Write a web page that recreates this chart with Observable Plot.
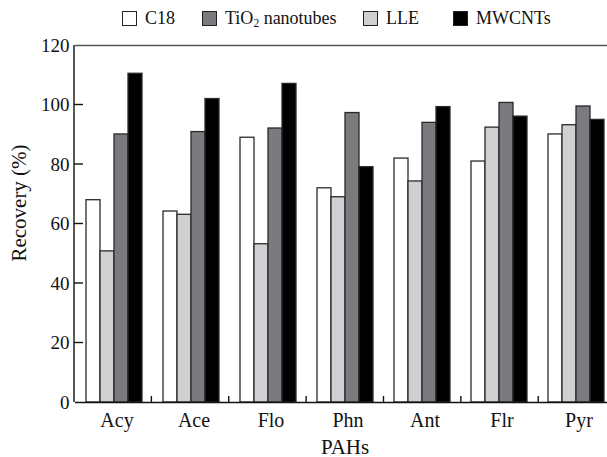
<!DOCTYPE html>
<html><head><meta charset="utf-8">
<script src="https://cdn.jsdelivr.net/npm/d3@7"></script>
<script src="https://cdn.jsdelivr.net/npm/@observablehq/plot@0.6"></script>
<style>
body{margin:0;background:#fff;overflow:hidden;font-family:"Liberation Serif",serif;}
#legend{position:relative;height:35px;width:607px;font-size:18px;color:#111;}
.item{position:absolute;top:10px;display:flex;align-items:center;white-space:nowrap;line-height:17px;}
.sw{width:13px;height:13px;border:1.3px solid #222;margin-right:8px;}
sub{font-size:11.5px;vertical-align:-3px;line-height:0;}
#chart svg text{font-family:"Liberation Serif",serif !important;fill:#111;}
</style></head>
<body><div id="legend"></div><div id="chart"></div>
<script>
const pahs = ["Acy","Ace","Flo","Phn","Ant","Flr","Pyr"];
const methods = ["C18","LLE","TiO2 nanotubes","MWCNTs"];
const c18 = [68, 64.2, 89, 72, 82, 81, 90.1];
const lle = [50.8, 63.1, 53.2, 69, 74.3, 92.4, 93.2];
const tio2 = [90.1, 90.9, 92.1, 97.3, 94, 100.7, 99.5];
const mwcnts = [110.5, 102, 107.1, 79.1, 99.3, 96.1, 95];
const colors = ["#ffffff", "#d0d0d2", "#7b7a7f", "#000000"];
const legendOrder = ["C18", "TiO2 nanotubes", "LLE", "MWCNTs"];
const legendLabels = ["C18", "TiO<sub>2</sub> nanotubes", "LLE", "MWCNTs"];
const yTicks = [0, 20, 40, 60, 80, 100, 120];
const xLabel = "PAHs";
const yLabel = "Recovery (%)";

const series = [c18, lle, tio2, mwcnts];
const data = pahs.flatMap((p, i) => methods.map((m, j) => ({pah: p, method: m, value: series[j][i]})));

// legend
const legendLeft = [122, 202, 363, 453];
const lg = document.getElementById("legend");
legendOrder.forEach((m, k) => {
  const it = document.createElement("div");
  it.className = "item";
  it.style.left = legendLeft[k] + "px";
  const sw = document.createElement("span");
  sw.className = "sw";
  sw.style.background = colors[methods.indexOf(m)];
  const tx = document.createElement("span");
  tx.innerHTML = legendLabels[k];
  it.appendChild(sw); it.appendChild(tx);
  lg.appendChild(it);
});

const plot = Plot.plot({
  width: 607, height: 422,
  marginTop: 10, marginBottom: 55, marginLeft: 74, marginRight: -8.6,
  style: {fontFamily: "Liberation Serif", fontSize: "19px", color: "#111", background: "#fff"},
  facet: {data, x: "pah"},
  fx: {domain: pahs, padding: 0, axis: "bottom", tickSize: 0, tickPadding: 10, label: xLabel, labelAnchor: "center", labelOffset: 51, labelArrow: false},
  x: {domain: methods, paddingInner: 0, paddingOuter: 0.72, axis: null},
  y: {domain: [0, 120], ticks: yTicks, tickSize: 0, tickPadding: 6, label: yLabel, labelAnchor: "center", labelOffset: 64, labelArrow: false},
  color: {domain: methods, range: colors},
  marks: [
    Plot.barY(data, {x: "method", y: "value", fill: "method", stroke: "#2a2a2a", strokeWidth: 1.3, inset: 0}),
    Plot.ruleY([0], {stroke: "#111", strokeWidth: 1.5}),
    Plot.ruleY([120], {stroke: "#555", strokeWidth: 1.5})
  ]
});
document.getElementById("chart").appendChild(plot);

// text tweaks: strip arrows, sizes, small offsets
d3.select(plot).selectAll("text").each(function() {
  const s = d3.select(this);
  let t = this.textContent;
  if (/[↑→↓←]/.test(t)) { t = t.replace(/\s*[↑→↓←]\s*/g, "").trim(); this.textContent = t; }
  if (t === yLabel) {
    s.style("font-size", "21px");
    s.attr("transform", (s.attr("transform") || "") + " translate(21,0)");
  } else if (t === xLabel) {
    s.style("font-size", "21px");
  } else if (pahs.includes(t)) {
    s.style("font-size", "20px").attr("dx", 3);
  } else {
    s.style("font-size", "19px");
  }
});

// inward ticks and left axis line from Plot's own scales
const ys = plot.scale("y"), fs = plot.scale("fx");
const y = d3.scaleLinear(ys.domain, ys.range);
const fx = d3.scaleBand(fs.domain, fs.range).paddingInner(0).paddingOuter(0);
const x0 = fs.range[0];
const g = d3.select(plot).append("g").attr("stroke", "#111").attr("stroke-width", 1.4);
g.append("line").attr("x1", x0).attr("x2", x0).attr("y1", y(0)).attr("y2", y(120));
g.selectAll(".yt").data(yTicks.slice(1, -1)).join("line")
  .attr("x1", x0).attr("x2", x0 + 9).attr("y1", d => y(d)).attr("y2", d => y(d));
g.selectAll(".xt").data(pahs.slice(1)).join("line")
  .attr("x1", d => fx(d)).attr("x2", d => fx(d)).attr("y1", y(0)).attr("y2", y(0) - 6);
</script>
</body></html>
